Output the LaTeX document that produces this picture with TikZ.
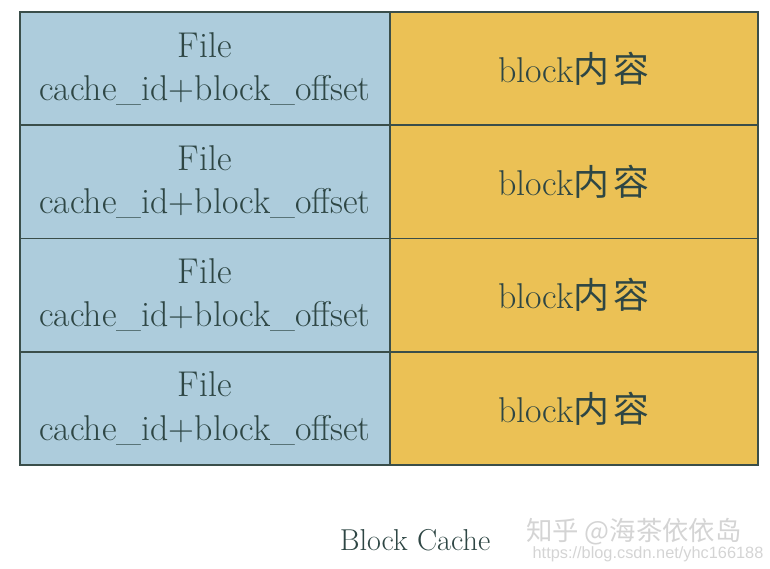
\documentclass[tikz,border=0pt]{standalone}
\usepackage{fontspec}
\newfontfamily\cjk{Noto Sans CJK SC}
\newfontfamily\urlfont{Liberation Sans}
\usetikzlibrary{positioning}
\definecolor{KeyClr}{RGB}{173,204,220}
\definecolor{ValClr}{RGB}{235,193,85}
\definecolor{LineClr}{RGB}{58,78,74}
\definecolor{TextClr}{RGB}{46,70,68}
\definecolor{MarkClr}{RGB}{212,212,212}

\tikzset{
  keycell/.style={draw=LineClr,line width=1.1pt,fill=KeyClr,outer sep=0pt,
    minimum width=7.4cm,minimum height=2.265cm,inner sep=0pt,align=center,
    text=TextClr,font=\fontsize{20.4}{24.6}\selectfont},
  valcell/.style={keycell,fill=ValClr,minimum width=7.36cm},
}

\begin{document}
\begin{tikzpicture}[x=0.02cm,y=-0.02cm]
\useasboundingbox (0,0) rectangle (770,568);

% four rows of the cache table
\foreach \i in {1,...,4}{
  \node[keycell,anchor=north west] (k\i) at (20,{12+(\i-1)*113.25}) {File\\cache\_id+block\_offset};
  \node[valcell,anchor=west] (v\i) at (k\i.east) {block{\cjk 内\hspace{0.12em}容}};
}

\node[text=TextClr,font=\fontsize{17.2}{20}\selectfont] (cap) at (415,540) {Block Cache};

% watermark
\node[text=MarkClr,font=\cjk\fontsize{15}{17}\selectfont] (wm) at (634,532) {知乎 @海茶依依岛};
\node[text=MarkClr,font=\urlfont\fontsize{9.3}{11}\selectfont] (url) at (648,554) {https://blog.csdn.net/yhc166188};

\end{tikzpicture}
\end{document}
